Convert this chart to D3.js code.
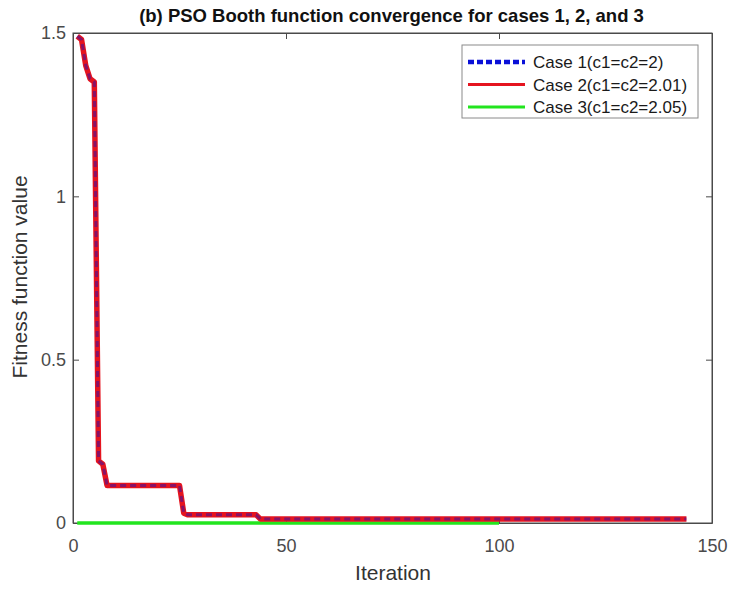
<!DOCTYPE html>
<meta charset="utf-8">
<style>
body { margin: 0; background: #fff; }
text { font-family: "Liberation Sans", Arial, sans-serif; }
.axis path, .axis line { stroke: #4a4a4a; }
.axis text { fill: #4a4a4a; font-size: 18px; font-family: "Liberation Sans", Arial, sans-serif; }
</style>
<svg width="731" height="590"></svg>
<script src="https://cdn.jsdelivr.net/npm/d3@7"></script>
<script>

// values
var iterations12 = [1, 2, 3, 4, 5, 6, 7, 8, 25, 26, 27, 43, 44, 144];
var fitness12    = [1.49, 1.48, 1.40, 1.36, 1.35, 0.19, 0.18, 0.115, 0.115, 0.03, 0.025, 0.025, 0.012, 0.012];
var iterations3  = [1, 100];
var fitness3     = [0.0, 0.0];
var xTicks = [0, 50, 100, 150];
var yTicks = [0, 0.5, 1, 1.5];
var legendLabels = ["Case 1(c1=c2=2)", "Case 2(c1=c2=2.01)", "Case 3(c1=c2=2.05)"];

var svg = d3.select("svg"),
    margin = {top: 33, right: 19, bottom: 67, left: 73},
    w = svg.attr("width") - margin.left - margin.right,
    h = svg.attr("height") - margin.top - margin.bottom;

var xScale = d3.scaleLinear().domain([0, 150]).range([0, w]),
    yScale = d3.scaleLinear().domain([0, 1.5]).range([h, 0]);

var g = svg.append("g").attr("transform", "translate(" + margin.left + "," + margin.top + ")");

// title
svg.append("text")
   .attr("x", margin.left + w / 2 - 1)
   .attr("y", 22)
   .attr("text-anchor", "middle")
   .attr("font-weight", "bold")
   .style("font-size", "18.5px")
   .attr("fill", "#111")
   .text("(b) PSO Booth function convergence for cases 1, 2, and 3");

// box
g.append("rect")
  .attr("width", w).attr("height", h)
  .attr("fill", "none").attr("stroke", "#4a4a4a");

// axes, ticks inside like matlab
var fmt = function(d) { return String(d); };
g.append("g").attr("class", "axis")
  .attr("transform", "translate(0," + h + ")")
  .call(d3.axisBottom(xScale).tickValues(xTicks).tickSizeInner(-6).tickSizeOuter(0).tickPadding(16).tickFormat(fmt));
g.append("g").attr("class", "axis")
  .call(d3.axisTop(xScale).tickValues(xTicks).tickSizeInner(-6).tickSizeOuter(0).tickFormat(""));
g.append("g").attr("class", "axis")
  .call(d3.axisLeft(yScale).tickValues(yTicks).tickSizeInner(-6).tickSizeOuter(0).tickPadding(7).tickFormat(fmt));
g.append("g").attr("class", "axis")
  .attr("transform", "translate(" + w + ",0)")
  .call(d3.axisRight(yScale).tickValues(yTicks).tickSizeInner(-6).tickSizeOuter(0).tickFormat(""));

// axis labels
svg.append("text")
   .attr("x", 393).attr("y", 580)
   .attr("text-anchor", "middle").style("font-size", "21px").attr("fill", "#333")
   .text("Iteration");
svg.append("text")
   .attr("transform", "translate(27,277) rotate(-90)")
   .attr("text-anchor", "middle").style("font-size", "21px").attr("fill", "#333")
   .text("Fitness function value");

var line = d3.line()
    .x(function(d) { return xScale(d[0]); })
    .y(function(d) { return yScale(d[1]); });

var data12 = d3.zip(iterations12, fitness12),
    data3 = d3.zip(iterations3, fitness3);

// case 3 green
g.append("path").attr("d", line(data3))
  .attr("fill", "none").attr("stroke", "#22e51e").attr("stroke-width", 3.5);

// case 2 red
g.append("path").attr("d", line(data12))
  .attr("fill", "none").attr("stroke", "#e5141f").attr("stroke-width", 5.5)
  .attr("stroke-linejoin", "round");

// case 1 blue dotted, shows through as purple dashes
g.append("path").attr("d", line(data12))
  .attr("fill", "none").attr("stroke", "#2a0fb0").attr("stroke-width", 3)
  .attr("stroke-opacity", 0.5).attr("stroke-dasharray", "6,4");

// legend
var lg = svg.append("g").attr("transform", "translate(462,45)");
lg.append("rect").attr("width", 236).attr("height", 73)
  .attr("fill", "#fff").attr("stroke", "#8a8a8a");
var colors = ["#0a10d8", "#e5141f", "#22e51e"];
legendLabels.forEach(function(lab, i) {
  var y = 17 + i * 22.5;
  lg.append("line").attr("x1", 6).attr("x2", 63).attr("y1", y).attr("y2", y)
    .attr("stroke", colors[i]).attr("stroke-width", i === 0 ? 4.5 : 3)
    .attr("stroke-dasharray", i === 0 ? "6,3" : null);
  lg.append("text").attr("x", 71).attr("y", y + 6)
    .style("font-size", "17px").attr("fill", "#1a1a1a").text(lab);
});

</script>
